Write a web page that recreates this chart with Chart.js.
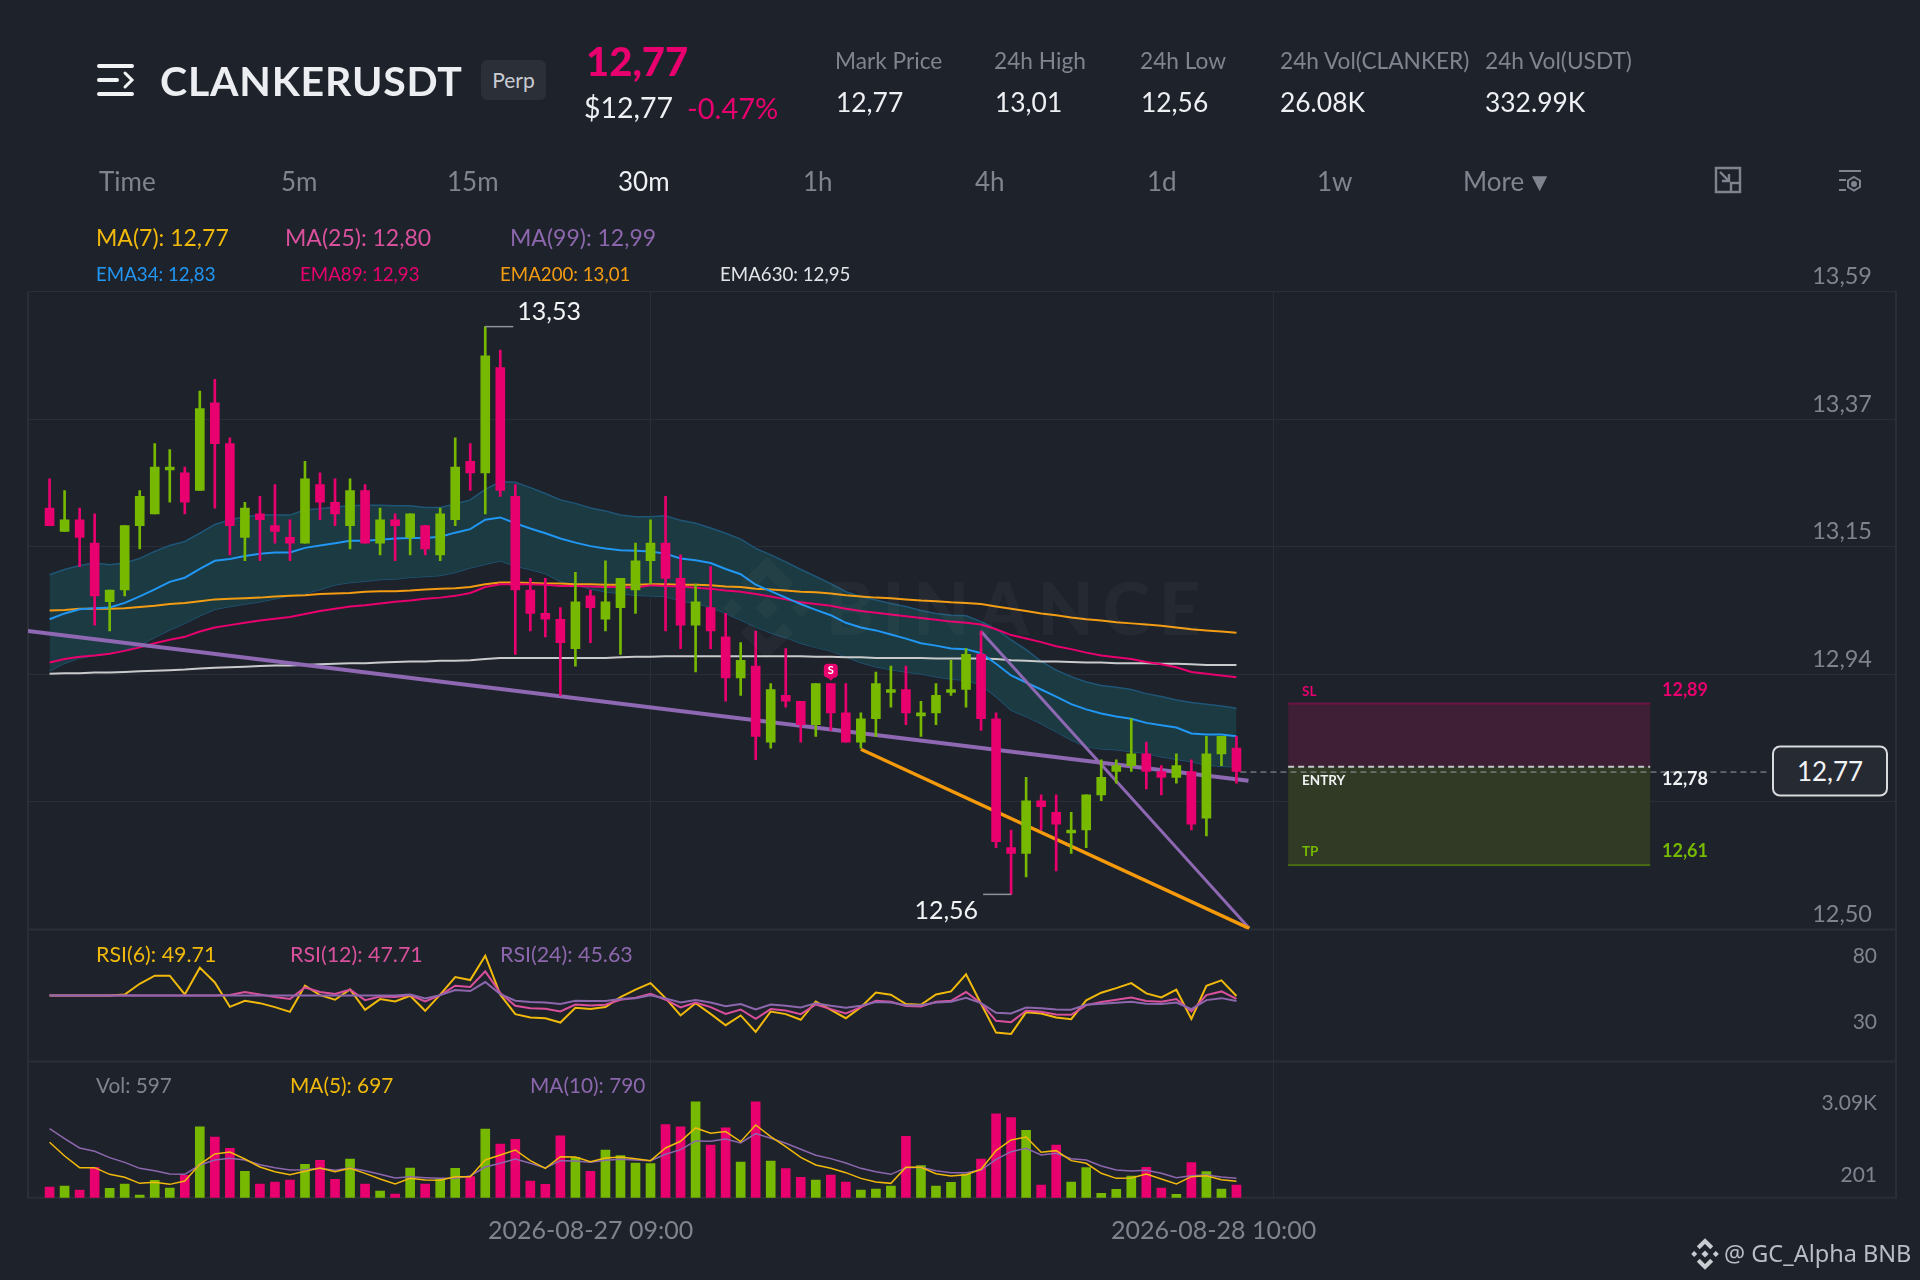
<!DOCTYPE html>
<html>
<head>
<meta charset="utf-8">
<title>CLANKERUSDT</title>
<script src="https://cdn.jsdelivr.net/npm/chart.js@4/dist/chart.umd.min.js"></script>
<style>
    html, body { margin: 0; padding: 0; background: #1e222b; }
    #page { position: relative; width: 1920px; height: 1280px; overflow: hidden; background: #1e222b; font-family: Lato, sans-serif; }
    canvas { position: absolute; left: 0; top: 0; }
    .t { position: absolute; white-space: nowrap; line-height: 1; transform: translateY(-50%); }
    .gray { color: #7f848e; }
    .white { color: #eef0f3; }
    .head { font-size: 22.7px; }
    .val { font-size: 26.4px; }
    .tf { font-size: 26px; }
    .ma { font-size: 23px; }
    .ema { font-size: 18.7px; }
    .ind { font-size: 21.4px; }
    .vol { font-size: 20.8px; }
    #perp { position: absolute; left: 481px; top: 60px; width: 65px; height: 40px; border-radius: 6px; background: #2b2f38; color: #c9ccd2; font-size: 21px; line-height: 40px; text-align: center; }
    svg { position: absolute; }
</style>
</head>
<body>
<div id="page">
    <canvas id="chart" width="1920" height="1280"></canvas>

    <svg style="left:97px;top:62px" width="38" height="36" viewBox="0 0 38 36" fill="none" stroke="#f2f3f5" stroke-width="4" stroke-linecap="round">
        <path d="M2 4 H35 M2 18 H20 M2 32 H35"/>
        <path d="M28 11 L35 18 L28 25" stroke-width="3"/>
    </svg>
    <div class="t" style="left:160px;top:80px;font-size:41px;letter-spacing:0.8px;font-weight:700;color:#eceef1">CLANKERUSDT</div>
    <div id="perp">Perp</div>
    <div class="t" style="left:586px;top:61px;font-size:40px;font-weight:900;color:#e8006f">12,77</div>
    <div class="t white" style="left:584px;top:107px;font-size:28.5px">$12,77</div>
    <div class="t" style="left:687px;top:107px;font-size:29px;color:#e8006f">-0.47%</div>

    <div class="t gray head" style="left:835px;top:60.5px">Mark Price</div>
    <div class="t gray head" style="left:994px;top:60.5px">24h High</div>
    <div class="t gray head" style="left:1140px;top:60.5px">24h Low</div>
    <div class="t gray head" style="left:1280px;top:60.5px">24h Vol(CLANKER)</div>
    <div class="t gray head" style="left:1485px;top:60.5px">24h Vol(USDT)</div>
    <div class="t white val" style="left:836px;top:102px">12,77</div>
    <div class="t white val" style="left:995px;top:102px">13,01</div>
    <div class="t white val" style="left:1141px;top:102px">12,56</div>
    <div class="t white val" style="left:1280px;top:102px">26.08K</div>
    <div class="t white val" style="left:1485px;top:102px">332.99K</div>

    <div class="t gray tf" style="left:99px;top:181px">Time</div>
    <div class="t gray tf" style="left:281px;top:181px">5m</div>
    <div class="t gray tf" style="left:447px;top:181px">15m</div>
    <div class="t white tf" style="left:618px;top:181px">30m</div>
    <div class="t gray tf" style="left:803px;top:181px">1h</div>
    <div class="t gray tf" style="left:975px;top:181px">4h</div>
    <div class="t gray tf" style="left:1147px;top:181px">1d</div>
    <div class="t gray tf" style="left:1317px;top:181px">1w</div>
    <div class="t gray tf" style="left:1463px;top:181px;word-spacing:-4px">More ▼</div>

    <svg style="left:1714px;top:166px" width="28" height="28" viewBox="0 0 28 28" fill="none" stroke="#7f848e" stroke-width="2.4">
        <path d="M16 26 H2 V2 H26 V16"/>
        <rect x="17" y="17" width="9" height="9"/>
        <path d="M6 6 L15 15 M15 8 V15 H8"/>
    </svg>
    <svg style="left:1838px;top:168px" width="24" height="26" viewBox="0 0 24 26" fill="none" stroke="#7f848e" stroke-width="2">
        <path d="M1 3 H23 M1 12 H8 M1 22 H8"/>
        <path d="M16 9 L22 12.5 V19 L16 22.5 L10 19 V12.5 Z"/>
        <circle cx="16" cy="16" r="2" fill="#7f848e"/>
    </svg>

    <div class="t ma" style="left:96px;top:237px;color:#f0b90b">MA(7): 12,77</div>
    <div class="t ma" style="left:285px;top:237px;color:#d9509c">MA(25): 12,80</div>
    <div class="t ma" style="left:510px;top:237px;color:#8d67ad">MA(99): 12,99</div>
    <div class="t ema" style="left:96px;top:274px;color:#2196f3">EMA34: 12,83</div>
    <div class="t ema" style="left:300px;top:274px;color:#e8006f">EMA89: 12,93</div>
    <div class="t ema" style="left:500px;top:274px;color:#f39c12">EMA200: 13,01</div>
    <div class="t ema" style="left:720px;top:274px;color:#e2e4e8">EMA630: 12,95</div>

    <div class="t ind" style="left:96px;top:955px;color:#f0b90b">RSI(6): 49.71</div>
    <div class="t ind" style="left:290px;top:955px;color:#d9509c">RSI(12): 47.71</div>
    <div class="t ind" style="left:500px;top:955px;color:#8d67ad">RSI(24): 45.63</div>
    <div class="t vol gray" style="left:96px;top:1085px">Vol: 597</div>
    <div class="t vol" style="left:290px;top:1085px;color:#f0b90b">MA(5): 697</div>
    <div class="t vol" style="left:530px;top:1085px;color:#8d67ad">MA(10): 790</div>

    <div class="t" style="left:1772px;top:771px;width:116px;height:51px;box-sizing:border-box;border:2px solid #d8dadd;border-radius:8px;background:#262a33;color:#f2f3f5;font-size:26px;line-height:47px;text-align:center">12,77</div>

    <div class="t" style="left:1724px;top:1254px;font-family:'Noto Sans';font-size:23.5px;color:#b9bdc4">@ GC_Alpha BNB</div>
</div>

<script>
const GRID = '#2a2e37';
const UP = '#76b900';
const DOWN = '#e8006f';

const opens = [13.22,13.18,13.20,13.16,13.06,13.08,13.19,13.21,13.285,13.28,13.25,13.40,13.33,13.17,13.21,13.19,13.17,13.16,13.26,13.23,
    13.19,13.25,13.16,13.20,13.17,13.19,13.14,13.20,13.30,13.28,13.46,13.24,13.08,13.04,13.03,12.98,13.07,13.03,13.05,13.08,
    13.13,13.16,13.10,13.02,13.05,13.00,12.93,12.95,12.82,12.90,12.89,12.85,12.92,12.87,12.82,12.86,12.905,12.91,12.865,12.87,
    12.905,12.91,12.97,12.86,12.64,12.63,12.72,12.70,12.665,12.67,12.73,12.77,12.78,12.80,12.77,12.76,12.77,12.69,12.80,12.81];
const highs = [13.27,13.25,13.22,13.21,13.08,13.19,13.25,13.33,13.32,13.29,13.42,13.44,13.34,13.23,13.24,13.26,13.20,13.30,13.28,13.27,
    13.27,13.26,13.22,13.21,13.21,13.19,13.22,13.34,13.33,13.53,13.49,13.26,13.10,13.10,13.05,13.11,13.08,13.13,13.10,13.16,
    13.20,13.24,13.14,13.09,13.12,13.04,12.99,13.01,12.92,12.98,12.89,12.92,12.92,12.92,12.87,12.94,12.95,12.95,12.89,12.92,
    12.96,12.98,13.01,12.87,12.67,12.76,12.73,12.73,12.70,12.73,12.79,12.79,12.86,12.82,12.78,12.80,12.79,12.83,12.83,12.83];
const lows = [13.19,13.18,13.12,13.02,13.01,13.07,13.15,13.21,13.23,13.21,13.25,13.22,13.14,13.13,13.13,13.16,13.13,13.16,13.20,13.19,
    13.15,13.16,13.14,13.13,13.14,13.14,13.13,13.19,13.25,13.21,13.24,12.97,13.01,13.00,12.90,12.95,12.99,13.01,12.97,13.04,
    13.09,13.01,12.98,12.94,12.98,12.89,12.90,12.79,12.81,12.88,12.82,12.83,12.84,12.82,12.81,12.83,12.88,12.85,12.83,12.85,
    12.90,12.88,12.84,12.64,12.56,12.59,12.67,12.60,12.63,12.64,12.72,12.75,12.77,12.74,12.73,12.75,12.67,12.66,12.78,12.75];
const closes = [13.19,13.20,13.17,13.07,13.08,13.19,13.24,13.29,13.29,13.23,13.39,13.33,13.19,13.22,13.20,13.18,13.16,13.27,13.23,13.21,
    13.25,13.16,13.20,13.19,13.21,13.15,13.21,13.29,13.28,13.48,13.25,13.08,13.04,13.03,12.99,13.06,13.05,13.06,13.10,13.13,
    13.16,13.10,13.02,13.06,13.01,12.93,12.96,12.83,12.91,12.89,12.85,12.92,12.87,12.82,12.86,12.92,12.91,12.87,12.87,12.90,
    12.91,12.97,12.86,12.65,12.63,12.72,12.71,12.68,12.67,12.73,12.76,12.78,12.80,12.77,12.76,12.78,12.68,12.80,12.83,12.77];

const ema34 = [13.030,13.040,13.047,13.049,13.050,13.058,13.069,13.081,13.094,13.101,13.116,13.130,13.133,13.138,13.142,13.144,13.144,13.152,13.156,13.160,
    13.164,13.164,13.166,13.168,13.169,13.169,13.171,13.178,13.184,13.200,13.204,13.194,13.185,13.177,13.168,13.161,13.155,13.151,13.148,13.147,
    13.146,13.142,13.134,13.131,13.126,13.116,13.107,13.089,13.078,13.067,13.056,13.046,13.037,13.024,13.016,13.011,13.004,12.997,12.989,12.985,
    12.980,12.979,12.972,12.954,12.934,12.922,12.910,12.898,12.885,12.876,12.869,12.864,12.860,12.853,12.849,12.845,12.835,12.833,12.833,12.830];
const bandUpper = [13.106,13.115,13.122,13.126,13.123,13.126,13.134,13.146,13.156,13.163,13.177,13.192,13.200,13.205,13.208,13.208,13.208,13.217,13.219,13.222,
    13.224,13.225,13.225,13.224,13.224,13.221,13.221,13.227,13.234,13.252,13.265,13.264,13.255,13.245,13.234,13.228,13.220,13.215,13.208,13.205,
    13.205,13.207,13.199,13.194,13.186,13.177,13.167,13.151,13.140,13.128,13.115,13.103,13.091,13.077,13.069,13.063,13.057,13.052,13.045,13.040,
    13.037,13.036,13.026,13.013,12.995,12.978,12.958,12.943,12.932,12.923,12.917,12.914,12.910,12.903,12.898,12.892,12.888,12.885,12.882,12.878];
const bandLower = [12.942,12.955,12.964,12.968,12.971,12.978,12.986,12.999,13.012,13.023,13.036,13.047,13.052,13.056,13.060,13.065,13.070,13.074,13.081,13.089,
    13.093,13.095,13.098,13.099,13.102,13.103,13.105,13.110,13.118,13.124,13.130,13.121,13.115,13.108,13.095,13.089,13.082,13.077,13.074,13.071,
    13.070,13.069,13.062,13.057,13.051,13.040,13.029,13.017,13.007,12.999,12.989,12.982,12.976,12.966,12.956,12.949,12.944,12.940,12.937,12.932,
    12.928,12.926,12.918,12.898,12.875,12.864,12.852,12.838,12.824,12.812,12.809,12.807,12.804,12.801,12.795,12.791,12.787,12.781,12.779,12.778];
const ema89 = [12.956,12.962,12.966,12.968,12.971,12.976,12.982,12.989,12.995,13.000,13.009,13.016,13.020,13.024,13.028,13.031,13.034,13.039,13.044,13.048,
    13.052,13.054,13.057,13.060,13.062,13.065,13.067,13.070,13.075,13.085,13.090,13.090,13.090,13.089,13.087,13.087,13.086,13.085,13.085,13.084,
    13.088,13.087,13.086,13.084,13.082,13.079,13.077,13.073,13.069,13.064,13.059,13.056,13.053,13.048,13.044,13.041,13.038,13.035,13.032,13.029,
    13.026,13.024,13.021,13.013,13.003,12.997,12.991,12.984,12.979,12.973,12.968,12.965,12.962,12.957,12.953,12.948,12.940,12.937,12.934,12.931];
const ema200 = [13.045,13.046,13.048,13.048,13.048,13.049,13.051,13.053,13.056,13.058,13.061,13.064,13.065,13.066,13.067,13.069,13.070,13.071,13.073,13.074,
    13.075,13.077,13.078,13.078,13.079,13.081,13.082,13.083,13.085,13.090,13.093,13.093,13.092,13.091,13.091,13.090,13.090,13.089,13.089,13.089,
    13.090,13.090,13.089,13.089,13.088,13.086,13.085,13.082,13.081,13.079,13.077,13.076,13.074,13.071,13.069,13.067,13.066,13.064,13.062,13.061,
    13.059,13.058,13.056,13.052,13.048,13.044,13.040,13.037,13.033,13.030,13.028,13.025,13.023,13.021,13.019,13.016,13.013,13.011,13.009,13.007];
const ema630 = [12.937,12.938,12.938,12.939,12.939,12.940,12.941,12.942,12.943,12.944,12.946,12.947,12.948,12.949,12.950,12.951,12.951,12.952,12.953,12.954,
    12.955,12.955,12.956,12.957,12.958,12.958,12.959,12.959,12.960,12.962,12.964,12.964,12.964,12.964,12.964,12.964,12.964,12.964,12.965,12.966,
    12.966,12.967,12.967,12.967,12.967,12.967,12.967,12.967,12.967,12.967,12.967,12.966,12.966,12.965,12.965,12.964,12.964,12.964,12.964,12.963,
    12.963,12.963,12.963,12.962,12.960,12.959,12.958,12.958,12.957,12.956,12.956,12.955,12.955,12.955,12.954,12.954,12.953,12.952,12.952,12.952];

const rsi6 = [50,50,50,50,50,50.8,58.9,65,65,50.8,71.1,59.9,41.4,46,44.2,41.2,37.6,57.4,50.3,46.8,
    54.6,39.2,47.3,45.5,49.8,38.4,50.6,64,61.7,80.2,50.6,35.9,33.3,32.8,29.5,40.7,39.7,41.2,48.8,54.4,
    59.4,48,34.9,44.2,36.1,27.5,34.9,22.4,37.9,35.9,31.6,45.5,39.2,32.8,41.2,52.3,50.6,43.5,43,50.8,
    53.1,66,43.7,21.9,20.9,37.4,36.4,33.3,32.1,46.3,52.1,55.6,59.4,51.6,48.5,54.4,32.3,57.4,61.5,49.6];
const rsi12 = [50,50,50,50,50,50,50,50,50,50,50,50,50.3,52.6,50.8,48.8,47.3,56.1,52.6,51.1,
    54.4,46.5,49.3,48.8,50.3,45.5,50.3,57.4,56.4,68.3,51.8,42.2,40.4,39.9,37.9,43.2,42.5,43,46.8,48.3,
    51.3,46.8,40.9,44.7,41.2,36.1,39.4,32.3,39.7,38.7,35.9,43.2,39.7,36.4,41.2,46,45.2,42,41.7,45.2,
    46,52.6,44.2,30.8,29.8,38.4,37.6,35.6,35.4,42.7,45,46.8,48.5,45.8,45.2,47.3,37.9,50.3,53.1,47.5];
const rsi24 = [50,50,50,50,50,50,50,50,50,50,50,50,50,50,50,50,50,50,50,50,
    50,50,50,50,50.8,47.8,50.3,54.1,53.4,60.2,51.1,46,45,44.7,43.5,46,45.8,45.8,47.3,48,
    50.1,47.8,44.7,46.5,44.7,41.9,43.5,39.4,43.2,42.2,40.9,44.2,42.2,40.7,42.2,45,44.7,42.7,42.7,44.7,
    45.2,48.3,44.2,36.9,36.4,40.9,40.4,39.4,39.2,43,43.7,44.5,45.2,43.7,43.5,44.7,39.7,46.5,48,45.8];

const volumes = [434,475,312,1234,380,556,108,705,393,909,2875,2468,2007,1071,556,637,719,1356,1519,746,
    1573,556,271,149,1207,556,746,1193,854,2793,2183,2373,678,542,2509,1641,1071,1939,1709,1410,
    1383,2970,2875,3892,2142,2834,1451,3892,1492,1180,827,719,922,637,312,353,475,2495,1302,475,
    624,963,1573,3404,3254,2739,515,2142,637,1220,176,339,881,1234,393,136,1424,1058,353,515];
const volMa5 = [2251,1695,1220,1220,949,827,583,624,542,678,1356,1776,1858,1573,1248,1058,936,1071,1207,1058,
    1193,990,759,556,786,719,705,854,854,1532,1736,1939,1505,1193,1668,1654,1464,1614,1654,1587,
    1505,2020,2292,2834,2617,2685,2278,2956,2481,2075,1641,1329,1193,1017,786,637,583,1234,1234,976,
    881,936,1153,1912,2346,2468,1844,1912,1505,1397,990,786,800,963,759,556,854,895,732,664];
const volMa10 = [2807,2400,2020,1885,1627,1437,1193,1098,963,949,1329,1532,1600,1532,1342,1220,1125,1139,1193,1112,
    1207,1098,949,800,854,814,786,786,881,1248,1397,1573,1397,1207,1505,1492,1437,1519,1559,1532,
    1505,1763,1953,2305,2292,2387,2224,2604,2414,2210,1966,1722,1587,1410,1193,1058,949,1220,1234,1098,
    1017,1017,1125,1559,1871,2007,1736,1803,1587,1532,1288,1125,1085,1112,990,814,895,922,841,786];

// trend lines drawn on the chart, [bar index, price]
const trendPurple = [[-1.44, 13.01], [79.8, 12.754]];
const trendSteep = [[62, 13.009], [79.85, 12.502]];
const trendOrange = [[54, 12.808], [79.85, 12.502]];

const priceTicks = [13.59, 13.372, 13.154, 12.936, 12.718, 12.50];
const priceLabels = ['13,59', '13,37', '13,15', '12,94', '', '12,50'];
const rsiTicks = [80, 30];
const volTicks = [3090, 201];
const volLabels = ['3.09K', '201'];
const timeTicks = [40, 81.47];
const timeLabels = ['2026-08-27 09:00', '2026-08-28 10:00'];

const lastPrice = 12.769;
const highMark = { index: 29, price: 13.53, text: '13,53' };
const lowMark = { index: 64, price: 12.56, text: '12,56' };
const sellSignal = { index: 52, price: 12.92 };
const trade = { from: 82.44, to: 106.54, sl: 12.886, entry: 12.778, tp: 12.61 };
const tradeLabels = { sl: '12,89', entry: '12,78', tp: '12,61' };

const pts = arr => arr.map((y, i) => ({ x: i, y }));
const seg = arr => arr.map(p => ({ x: p[0], y: p[1] }));
const upDown = opens.map((o, i) => closes[i] >= o ? UP : DOWN);

const line = (data, color, width, yAxisID, order, extra) => Object.assign({
    type: 'line', data, yAxisID, order,
    borderColor: color, borderWidth: width,
    pointRadius: 0, tension: 0, fill: false
}, extra);

// binance logo, used for the watermark and for the footer
const drawLogo = (ctx, cx, cy, r, color) => {
    const diamond = (x, y, s) => {
        ctx.beginPath();
        ctx.moveTo(x, y - s); ctx.lineTo(x + s, y); ctx.lineTo(x, y + s); ctx.lineTo(x - s, y);
        ctx.closePath();
        ctx.fill();
    };
    ctx.save();
    ctx.fillStyle = color;
    ctx.strokeStyle = color;
    diamond(cx, cy, r * 0.24);
    diamond(cx - r * 0.72, cy, r * 0.2);
    diamond(cx + r * 0.72, cy, r * 0.2);
    ctx.lineWidth = r * 0.28;
    ctx.beginPath();
    ctx.moveTo(cx - r * 0.45, cy - r * 0.42); ctx.lineTo(cx, cy - r * 0.86); ctx.lineTo(cx + r * 0.45, cy - r * 0.42);
    ctx.moveTo(cx - r * 0.45, cy + r * 0.42); ctx.lineTo(cx, cy + r * 0.86); ctx.lineTo(cx + r * 0.45, cy + r * 0.42);
    ctx.stroke();
    ctx.restore();
};

const backdropPlugin = {
    id: 'backdrop',
    beforeDatasetsDraw(chart) {
        const { ctx, chartArea: a, scales } = chart;
        const x = scales.x, y = scales.yPrice;

        ctx.save();
        // panel frame
        ctx.strokeStyle = GRID;
        ctx.lineWidth = 2;
        ctx.beginPath();
        ctx.moveTo(a.left, a.top); ctx.lineTo(a.left, a.bottom); ctx.lineTo(a.right, a.bottom); ctx.lineTo(a.right, a.top);
        ctx.moveTo(a.left, scales.yRsi.top); ctx.lineTo(a.right, scales.yRsi.top);
        ctx.moveTo(a.left, scales.yVol.top); ctx.lineTo(a.right, scales.yVol.top);
        ctx.stroke();

        // SL / TP zones
        const left = x.getPixelForValue(trade.from), right = x.getPixelForValue(trade.to);
        const ySl = y.getPixelForValue(trade.sl), yEntry = y.getPixelForValue(trade.entry), yTp = y.getPixelForValue(trade.tp);
        ctx.fillStyle = '#3e1f35';
        ctx.fillRect(left, ySl, right - left, yEntry - ySl);
        ctx.fillStyle = '#303a24';
        ctx.fillRect(left, yEntry, right - left, yTp - yEntry);
        ctx.fillStyle = '#6d1447';
        ctx.fillRect(left, ySl - 1, right - left, 2);
        ctx.fillStyle = '#4a6d12';
        ctx.fillRect(left, yTp - 1, right - left, 2);
        ctx.restore();
    },
    afterDatasetsDraw(chart) {
        const { ctx, scales } = chart;
        const x = scales.x, y = scales.yPrice;
        const left = x.getPixelForValue(trade.from), right = x.getPixelForValue(trade.to);

        ctx.save();
        // watermark, sits over the bands
        drawLogo(ctx, 767, 608, 48, 'rgba(255,255,255,0.035)');
        ctx.fillStyle = 'rgba(255,255,255,0.035)';
        ctx.font = '900 72px Lato';
        ctx.letterSpacing = '9px';
        ctx.textBaseline = 'middle';
        ctx.fillText('BINANCE', 826, 612);
        ctx.letterSpacing = '0px';

        // entry line
        ctx.strokeStyle = '#c4c6c9';
        ctx.lineWidth = 2;
        ctx.setLineDash([6, 4]);
        ctx.beginPath();
        ctx.moveTo(left, y.getPixelForValue(trade.entry));
        ctx.lineTo(right, y.getPixelForValue(trade.entry));
        ctx.stroke();

        // current price line
        ctx.strokeStyle = '#9a9da3';
        ctx.lineWidth = 1;
        ctx.beginPath();
        ctx.moveTo(x.getPixelForValue(79) + 4, y.getPixelForValue(lastPrice));
        ctx.lineTo(1770, y.getPixelForValue(lastPrice));
        ctx.stroke();
        ctx.setLineDash([]);

        // high and low marks
        ctx.strokeStyle = '#8f9297';
        ctx.lineWidth = 1.5;
        ctx.fillStyle = '#f2f3f5';
        ctx.font = '25px Lato';
        ctx.textBaseline = 'middle';
        const hx = x.getPixelForValue(highMark.index), hy = y.getPixelForValue(highMark.price);
        ctx.beginPath(); ctx.moveTo(hx, hy); ctx.lineTo(hx + 28, hy); ctx.stroke();
        ctx.textAlign = 'left';
        ctx.fillText(highMark.text, hx + 32, hy - 15);
        const lx = x.getPixelForValue(lowMark.index), ly = y.getPixelForValue(lowMark.price);
        ctx.beginPath(); ctx.moveTo(lx, ly); ctx.lineTo(lx - 28, ly); ctx.stroke();
        ctx.textAlign = 'right';
        ctx.fillText(lowMark.text, lx - 33, ly + 17);

        // sell marker
        const sx = x.getPixelForValue(sellSignal.index), sy = y.getPixelForValue(sellSignal.price);
        ctx.fillStyle = DOWN;
        ctx.beginPath();
        ctx.roundRect(sx - 7, sy - 20, 14, 14, 4);
        ctx.fill();
        ctx.beginPath();
        ctx.moveTo(sx - 4, sy - 7); ctx.lineTo(sx + 4, sy - 7); ctx.lineTo(sx, sy - 3);
        ctx.fill();
        ctx.fillStyle = '#ffffff';
        ctx.font = '700 11px Lato';
        ctx.textAlign = 'center';
        ctx.fillText('S', sx, sy - 13);

        // SL / TP text
        ctx.textAlign = 'left';
        ctx.font = '700 13.5px Lato';
        ctx.fillStyle = DOWN;
        ctx.fillText('SL', 1302, 692);
        ctx.fillStyle = '#f0f1f3';
        ctx.fillText('ENTRY', 1302, 781);
        ctx.fillStyle = UP;
        ctx.fillText('TP', 1302, 852);
        ctx.font = '700 18px Lato';
        ctx.fillStyle = DOWN;
        ctx.fillText(tradeLabels.sl, 1662, 690);
        ctx.fillStyle = '#f0f1f3';
        ctx.fillText(tradeLabels.entry, 1662, 779);
        ctx.fillStyle = UP;
        ctx.fillText(tradeLabels.tp, 1662, 851);
        ctx.restore();

        drawLogo(ctx, 1705, 1254, 15, '#c9ccd1');
    }
};

const yAxis = (weight, min, max, tickValues, labels, font, labelOffset, inset, grid) => ({
    type: 'linear',
    position: 'right',
    stack: 'panes',
    stackWeight: weight,
    min, max,
    border: { display: false },
    grid: grid ? { color: GRID, lineWidth: 1, drawTicks: false } : { display: false },
    afterBuildTicks: axis => { axis.ticks = tickValues.map(value => ({ value })); },
    afterFit: axis => { axis.width = 0; },
    ticks: {
        mirror: true,
        autoSkip: false,
        padding: inset,
        labelOffset,
        color: '#7f848e',
        font: { family: 'Lato', size: font },
        callback: (v, i) => labels[i]
    }
});

new Chart(document.getElementById('chart'), {
    data: {
        datasets: [
            // price pane
            { type: 'bar', label: 'wick', yAxisID: 'yPrice', order: 1, grouped: false, barThickness: 2,
              data: highs.map((h, i) => ({ x: i, y: [lows[i], h] })), backgroundColor: upDown },
            { type: 'bar', label: 'body', yAxisID: 'yPrice', order: 0, grouped: false, barThickness: 9,
              data: opens.map((o, i) => ({ x: i, y: [o, closes[i]] })), backgroundColor: upDown },
            line(pts(bandUpper), '#1f5678', 1.5, 'yPrice', 10, { fill: '+1', backgroundColor: '#1b3a41' }),
            line(pts(bandLower), '#1f5678', 1.5, 'yPrice', 10),
            line(pts(ema630), '#c9cacc', 2, 'yPrice', 9),
            line(pts(ema89), '#e8006f', 2, 'yPrice', 8),
            line(pts(ema200), '#f39c12', 2, 'yPrice', 8),
            line(pts(ema34), '#2196f3', 2, 'yPrice', 7),
            line(seg(trendPurple), '#8e68b2', 4, 'yPrice', 6),
            line(seg(trendSteep), '#8e68b2', 3, 'yPrice', 6),
            line(seg(trendOrange), '#f59a0a', 3.5, 'yPrice', 5),

            // rsi pane
            line(pts(rsi6), '#f0b90b', 2, 'yRsi', 3),
            line(pts(rsi12), '#d9509c', 2, 'yRsi', 2),
            line(pts(rsi24), '#8d67ad', 2, 'yRsi', 1),

            // volume pane
            { type: 'bar', label: 'volume', yAxisID: 'yVol', order: 4, grouped: false, barThickness: 9,
              data: pts(volumes), backgroundColor: upDown },
            line(pts(volMa5), '#f0b90b', 1.5, 'yVol', 1),
            line(pts(volMa10), '#8d67ad', 1.5, 'yVol', 2)
        ]
    },
    options: {
        responsive: false,
        animation: false,
        devicePixelRatio: 1,
        layout: { padding: { left: 28, right: 24, top: 291.5, bottom: 22.3 } },
        plugins: { legend: { display: false }, tooltip: { enabled: false } },
        scales: {
            x: {
                type: 'linear',
                min: -1.436,
                max: 122.9,
                offset: false,
                border: { display: false },
                grid: { color: GRID, drawTicks: false, offset: false },
                afterBuildTicks: axis => { axis.ticks = timeTicks.map(value => ({ value })); },
                afterFit: axis => { axis.height = 60; },
                ticks: {
                    autoSkip: false,
                    maxRotation: 0,
                    padding: 18,
                    labelOffset: -60,
                    color: '#7f848e',
                    font: { family: 'Lato', size: 25 },
                    callback: (v, i) => timeLabels[i]
                }
            },
            yPrice: Object.assign(yAxis(638, 12.5, 13.59, priceTicks, priceLabels, 23.5, -15, -24, true), { weight: 1 }),
            yRsi: Object.assign(yAxis(132, 0, 100, rsiTicks, rsiTicks, 21, 0, -19, false), { weight: 2 }),
            yVol: Object.assign(yAxis(136.2, 0, 5534, volTicks, volLabels, 21, -18, -19, false), { weight: 3 })
        }
    },
    plugins: [backdropPlugin]
});
</script>
</body>
</html>
